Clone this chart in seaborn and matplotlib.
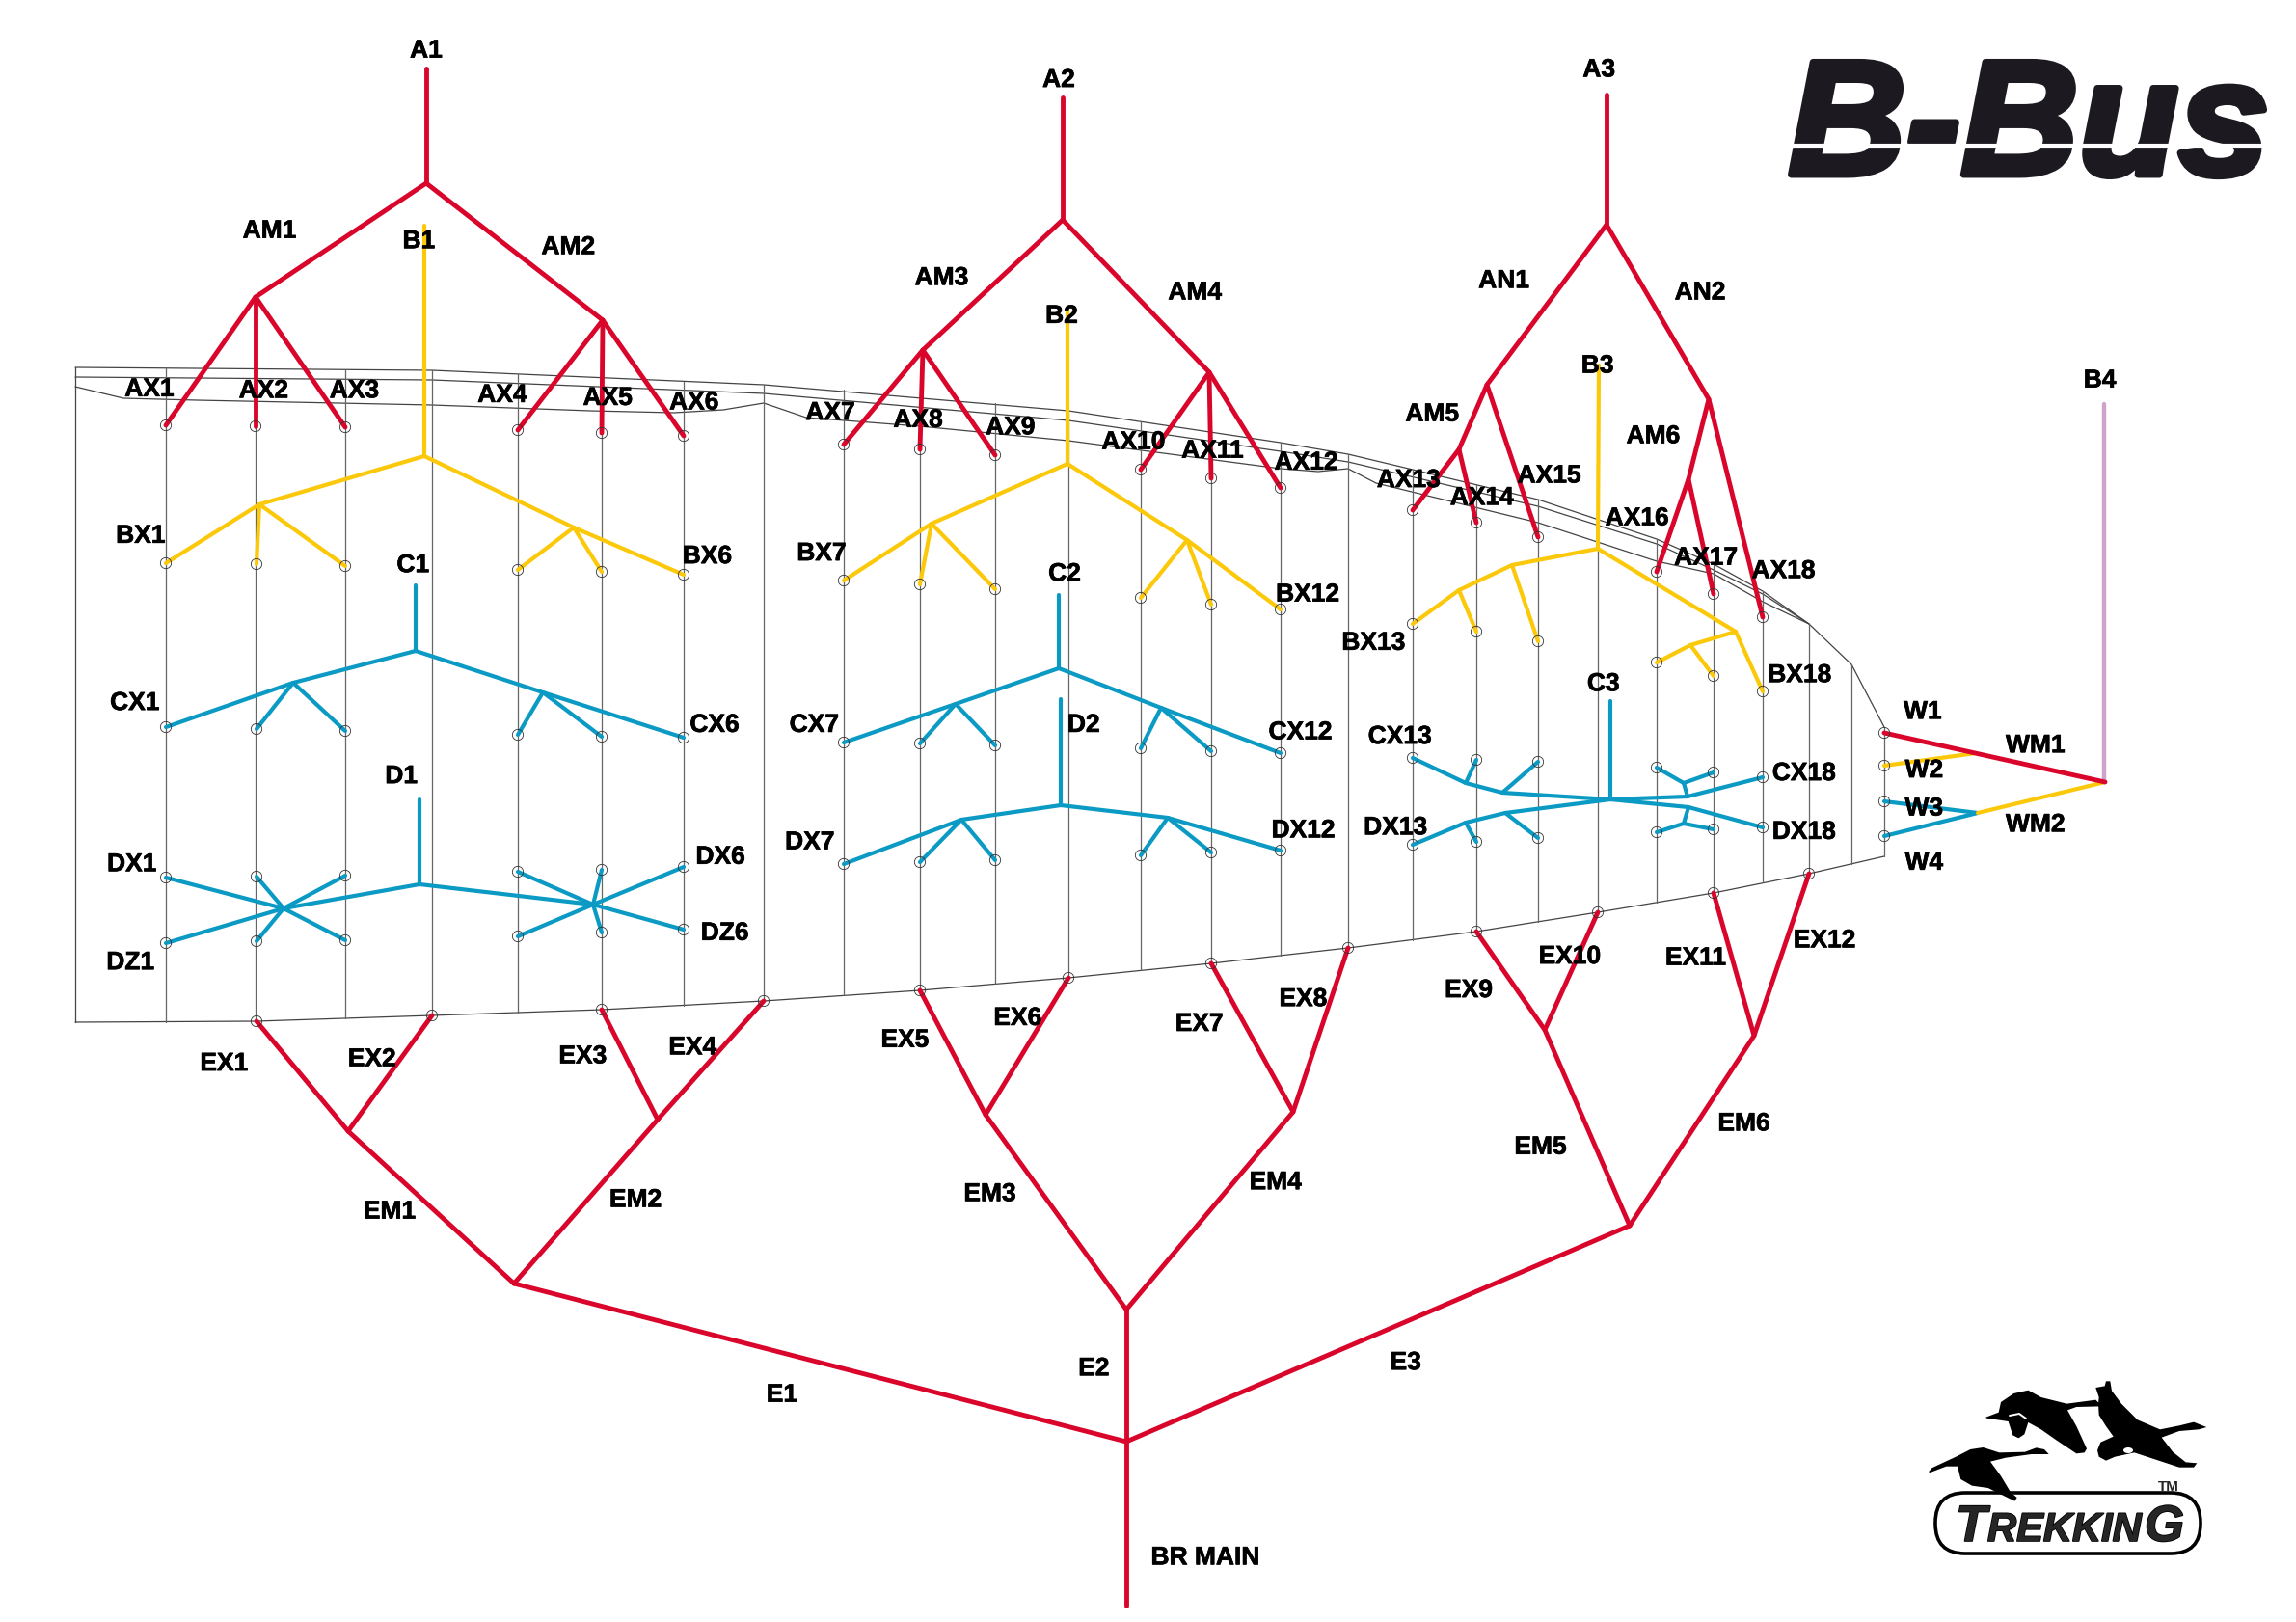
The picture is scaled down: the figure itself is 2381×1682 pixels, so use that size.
import matplotlib
matplotlib.use('Agg')
import matplotlib.pyplot as plt
import matplotlib.patheffects as pe
from matplotlib.patches import FancyBboxPatch, Ellipse
import seaborn as sns
import pandas as pd

# all coordinates are pixels of the 2381x1683 picture
RED = [
    [(442, 72), (442, 191)],
    [(442, 191), (265, 309), (172, 442)],
    [(265, 309), (265, 443)],
    [(265, 309), (358, 444)],
    [(442, 191), (625, 333), (537, 447)],
    [(625, 333), (624, 450)],
    [(625, 333), (709, 453)],
    [(1102, 102), (1102, 229)],
    [(1102, 229), (957, 364), (875, 462)],
    [(957, 364), (954, 467)],
    [(957, 364), (1032, 473)],
    [(1102, 229), (1254, 387), (1183, 488)],
    [(1254, 387), (1256, 497)],
    [(1254, 387), (1328, 507)],
    [(1666, 99), (1666, 234)],
    [(1666, 234), (1542, 400), (1513, 467), (1465, 530)],
    [(1513, 467), (1531, 543)],
    [(1542, 400), (1595, 558)],
    [(1666, 234), (1772, 415), (1751, 498), (1718, 594)],
    [(1751, 498), (1777, 617)],
    [(1772, 415), (1828, 641)],
    [(1168, 1666), (1168, 1496)],
    [(1168, 1496), (1168, 1359)],
    [(1168, 1496), (533, 1332)],
    [(1168, 1496), (1690, 1272)],
    [(533, 1332), (361, 1174), (266, 1060)],
    [(361, 1174), (448, 1054)],
    [(533, 1332), (682, 1162), (624, 1048)],
    [(682, 1162), (792, 1039)],
    [(1168, 1359), (1022, 1157), (954, 1028)],
    [(1022, 1157), (1108, 1015)],
    [(1168, 1359), (1341, 1154), (1256, 1000)],
    [(1341, 1154), (1398, 984)],
    [(1690, 1272), (1602, 1069), (1531, 967)],
    [(1602, 1069), (1657, 947)],
    [(1690, 1272), (1819, 1075), (1777, 927)],
    [(1819, 1075), (1876, 907)],
    [(1954, 761), (2183, 812)],
]
YELLOW = [
    [(440, 235), (440, 474)],
    [(440, 474), (269, 524), (172, 585)],
    [(269, 524), (266, 586)],
    [(269, 524), (358, 588)],
    [(440, 474), (595, 548), (709, 597)],
    [(595, 548), (537, 592)],
    [(595, 548), (624, 594)],
    [(1107, 322), (1107, 482)],
    [(1107, 482), (966, 544), (875, 603)],
    [(966, 544), (954, 607)],
    [(966, 544), (1032, 612)],
    [(1107, 482), (1231, 561), (1328, 633)],
    [(1231, 561), (1183, 621)],
    [(1231, 561), (1256, 628)],
    [(1658, 380), (1657, 570)],
    [(1657, 570), (1568, 587), (1513, 613), (1465, 648)],
    [(1513, 613), (1531, 656)],
    [(1568, 587), (1595, 666)],
    [(1657, 570), (1800, 656), (1828, 718)],
    [(1800, 656), (1753, 670), (1718, 688)],
    [(1753, 670), (1777, 702)],
    [(1954, 795), (2049, 782)],
    [(2051, 844), (2183, 812)],
]
BLUE = [
    [(431, 608), (431, 676)],
    [(431, 676), (304, 709), (172, 755)],
    [(304, 709), (266, 757)],
    [(304, 709), (358, 759)],
    [(431, 676), (563, 719), (709, 766)],
    [(563, 719), (537, 763)],
    [(563, 719), (624, 765)],
    [(435, 830), (435, 918)],
    [(435, 918), (294, 943)],
    [(435, 918), (615, 939)],
    [(294, 943), (172, 911)], [(294, 943), (172, 979)],
    [(294, 943), (266, 910)], [(294, 943), (266, 977)],
    [(294, 943), (358, 909)], [(294, 943), (358, 976)],
    [(615, 939), (537, 905)], [(615, 939), (537, 972)],
    [(615, 939), (624, 903)], [(615, 939), (624, 968)],
    [(615, 939), (709, 900)], [(615, 939), (709, 965)],
    [(1098, 618), (1098, 694)],
    [(1098, 694), (991, 731), (875, 771)],
    [(991, 731), (954, 772)],
    [(991, 731), (1032, 774)],
    [(1098, 694), (1204, 735), (1328, 782)],
    [(1204, 735), (1183, 777)],
    [(1204, 735), (1256, 780)],
    [(1100, 726), (1100, 836)],
    [(1100, 836), (997, 851), (875, 897)],
    [(997, 851), (954, 895)],
    [(997, 851), (1032, 893)],
    [(1100, 836), (1211, 849), (1328, 883)],
    [(1211, 849), (1183, 888)],
    [(1211, 849), (1256, 885)],
    [(1670, 728), (1670, 830)],
    [(1670, 830), (1558, 823), (1520, 813), (1465, 787)],
    [(1520, 813), (1531, 789)],
    [(1558, 823), (1595, 791)],
    [(1670, 830), (1561, 844), (1520, 854), (1465, 877)],
    [(1520, 854), (1531, 874)],
    [(1561, 844), (1595, 870)],
    [(1670, 830), (1750, 827), (1828, 807)],
    [(1750, 827), (1746, 813), (1718, 797)],
    [(1746, 813), (1777, 802)],
    [(1670, 830), (1751, 838), (1828, 859)],
    [(1751, 838), (1746, 855), (1718, 864)],
    [(1746, 855), (1777, 861)],
    [(1954, 832), (2051, 844)],
    [(1954, 868), (2051, 844)],
]
PINK = [[(2182, 420), (2182, 812)]]

OUTLINE = [
    [(78, 382), (448, 385), (792, 400), (1108, 427), (1328, 460), (1398, 472),
     (1595, 519), (1718, 560), (1777, 586), (1828, 614), (1876, 648), (1920, 690), (1954, 755)],
    [(78, 392), (448, 395), (792, 409), (1108, 437), (1328, 469), (1398, 480),
     (1595, 526), (1718, 565), (1777, 592), (1828, 617), (1876, 648)],
    [(78, 402), (128, 414), (204, 416), (448, 421), (612, 427), (699, 429), (750, 426), (792, 419),
     (836, 434), (954, 443), (1108, 458), (1328, 487), (1367, 490), (1398, 487), (1427, 502),
     (1595, 543), (1718, 583), (1777, 596), (1828, 625), (1876, 648)],
    [(78, 1061), (266, 1060), (448, 1054), (624, 1048), (792, 1039), (954, 1028), (1108, 1015),
     (1256, 1000), (1398, 984), (1531, 967), (1657, 947), (1777, 927), (1876, 907), (1954, 889)],
    [(78, 382), (78, 1061)],
]
RIB_X = [172, 265, 358, 448, 537, 624, 709, 792, 875, 954, 1032, 1108, 1183, 1256, 1328,
         1398, 1465, 1531, 1595, 1657, 1718, 1777, 1828, 1876, 1920, 1954]
RIB_TOP = [383, 383, 384, 385, 389, 393, 397, 400, 405, 412, 419, 427, 438, 449, 460,
           472, 488, 503, 519, 541, 560, 586, 614, 648, 690, 755]
RIB_BOTTOM = [1061, 1060, 1057, 1054, 1051, 1048, 1044, 1039, 1033, 1028, 1021, 1015, 1007, 1000, 992,
              984, 976, 967, 957, 947, 937, 927, 916, 907, 897, 889]

GROUND = [(266, 1060), (448, 1054), (624, 1048), (792, 1039), (954, 1028), (1108, 1015),
          (1256, 1000), (1398, 984), (1531, 967), (1657, 947), (1777, 927), (1876, 907),
          (1954, 761), (1954, 795), (1954, 832), (1954, 868)]

LABELS = {
    'A1': (291, 33), 'A2': (723, 53), 'A3': (1092, 46), 'AM1': (184, 156), 'AM2': (388, 167),
    'B1': (286, 163), 'AM3': (643, 188), 'AM4': (816, 198), 'B2': (725, 214), 'AN1': (1027, 190),
    'AN2': (1161, 198), 'B3': (1091, 248), 'B4': (1434, 258), 'AM5': (978, 281), 'AM6': (1129, 296),
    'AX1': (102, 264), 'AX2': (180, 265), 'AX3': (242, 265), 'AX4': (343, 268), 'AX5': (415, 270),
    'AX6': (474, 273), 'AX7': (567, 280), 'AX8': (627, 285), 'AX9': (690, 290), 'AX10': (774, 300),
    'AX11': (828, 306), 'AX12': (892, 314), 'AX13': (962, 326), 'AX14': (1012, 338), 'AX15': (1058, 323),
    'AX16': (1118, 352), 'AX17': (1165, 379), 'AX18': (1218, 388),
    'BX1': (96, 364), 'BX6': (483, 378), 'BX7': (561, 376), 'BX12': (893, 404), 'BX13': (938, 437),
    'BX18': (1229, 459), 'C1': (282, 384), 'C2': (727, 390), 'C3': (1095, 465), 'D1': (274, 528),
    'D2': (740, 493), 'CX1': (92, 478), 'CX6': (488, 493), 'CX7': (556, 493), 'CX12': (888, 498),
    'CX13': (956, 501), 'CX18': (1232, 526), 'DX1': (90, 588), 'DZ1': (89, 655), 'DX6': (492, 583),
    'DZ6': (495, 635), 'DX7': (553, 573), 'DX12': (890, 565), 'DX13': (953, 563), 'DX18': (1232, 566),
    'W1': (1313, 484), 'W2': (1314, 524), 'W3': (1314, 550), 'W4': (1314, 587), 'WM1': (1390, 507),
    'WM2': (1390, 561), 'EX1': (153, 724), 'EX2': (254, 721), 'EX3': (398, 719), 'EX4': (473, 713),
    'EX5': (618, 708), 'EX6': (695, 693), 'EX7': (819, 697), 'EX8': (890, 680), 'EX9': (1003, 674),
    'EX10': (1072, 651), 'EX11': (1158, 652), 'EX12': (1246, 640), 'EM1': (266, 825), 'EM2': (434, 817),
    'EM3': (676, 813), 'EM4': (871, 805), 'EM5': (1052, 781), 'EM6': (1191, 765), 'E1': (534, 950),
    'E2': (747, 932), 'E3': (960, 928), 'BR MAIN': (823, 1061),
}
LABEL_SCALE = 1.5185
LABEL_SCALE_Y = 1.5201

GOOSE_1 = [(120, 382), (130, 370), (205, 335), (250, 312), (290, 306), (340, 322), (420, 320), (455, 307),
           (480, 312), (494, 327), (440, 327), (360, 338), (312, 350), (345, 395), (375, 445), (395, 462),
           (388, 473), (345, 452), (305, 432), (255, 425), (220, 405), (210, 365), (175, 365), (125, 384)]
GOOSE_2 = [(298, 212), (338, 197), (345, 165), (385, 138), (430, 128), (470, 150), (550, 170), (640, 158),
           (660, 178), (580, 180), (552, 190), (580, 240), (612, 310), (605, 322), (580, 325), (520, 285),
           (470, 250), (430, 228), (418, 265), (400, 277), (382, 268), (368, 225), (300, 215)]
GOOSE_3 = [(640, 120), (668, 115), (672, 100), (685, 100), (690, 130), (720, 170), (770, 220), (840, 250),
           (900, 238), (945, 227), (965, 235), (985, 243), (960, 250), (900, 255), (845, 275), (880, 320),
           (920, 352), (955, 355), (945, 368), (900, 368), (830, 345), (760, 322), (700, 335), (672, 347),
           (650, 335), (645, 315), (655, 290), (695, 272), (672, 240), (650, 205), (648, 170), (650, 150)]


def to_frame(paths):
    rows = []
    for seg, path in enumerate(paths):
        for x, y in path:
            rows.append({'seg': seg, 'x': x, 'y': y})
    return pd.DataFrame(rows)


def draw_paths(ax, paths, color, lw, zorder):
    sns.lineplot(data=to_frame(paths), x='x', y='y', units='seg', estimator=None, sort=False,
                 color=color, linewidth=lw, zorder=zorder, legend=False, ax=ax)


def electrode_ends(paths):
    # a path end that sits on a rib and does not branch on is an electrode
    starts = set(p[0] for p in paths)
    ends = []
    for path in paths:
        end = path[-1]
        if end not in starts and min(abs(end[0] - x) for x in RIB_X) <= 2:
            ends.append(end)
    return ends


sns.set_style("white")
plt.rcParams['font.family'] = ['Liberation Sans', 'DejaVu Sans']

fig = plt.figure(figsize=(23.81, 16.83), dpi=100)
ax = fig.add_axes([0, 0, 1, 1])

# wing outline and ribs
draw_paths(ax, OUTLINE, '#444444', 0.9, 1)
ribs = [[(x, t), (x, b)] for x, t, b in zip(RIB_X, RIB_TOP, RIB_BOTTOM)]
draw_paths(ax, ribs, '#666666', 0.9, 1)

# bus trees
draw_paths(ax, PINK, '#cfa4cc', 3.2, 2)
draw_paths(ax, BLUE, '#0b9ac4', 3.0, 3)
draw_paths(ax, YELLOW, '#fcc80a', 3.0, 3)
draw_paths(ax, RED, '#d9052b', 3.5, 4)

# open rings at the electrodes
ring_points = electrode_ends(RED) + electrode_ends(YELLOW) + electrode_ends(BLUE) + GROUND
rings = pd.DataFrame(sorted(set(ring_points)), columns=['x', 'y'])
sns.scatterplot(data=rings, x='x', y='y', s=66, marker='o', facecolors='none',
                edgecolor='#333333', linewidth=0.6, zorder=5, legend=False, ax=ax)

for name, (x, y) in LABELS.items():
    ax.text(x * LABEL_SCALE, y * LABEL_SCALE_Y + 3.5, name, fontsize=19, fontweight='bold',
            ha='center', va='center', color='black', zorder=6,
            path_effects=[pe.withStroke(linewidth=0.5, foreground='black')])

# B-Bus logo
ax.text(2104, 182, 'B-Bus', fontsize=122, fontweight='bold', fontstyle='italic', ha='center',
        va='baseline', color='#1c1a20',
        path_effects=[pe.withStroke(linewidth=5, foreground='#1c1a20')], zorder=6)
ax.plot([1850, 2360], [152, 152], color='white', lw=3.0, zorder=7)

# Trekking logo
for goose in (GOOSE_1, GOOSE_2, GOOSE_3):
    ax.fill([1960 + p[0] / 3 for p in goose], [1400 + p[1] / 3 for p in goose], color='black', lw=0, zorder=7)
ax.add_patch(Ellipse((2207, 1505), 10, 6, fc='white', ec='none', zorder=8))
ax.plot([2084, 2094, 2101], [1469, 1467, 1472], color='white', lw=1.4, zorder=8)
ax.add_patch(FancyBboxPatch((2007, 1549), 275, 63, boxstyle='round,pad=0,rounding_size=31',
                            fc='white', ec='black', lw=2.6, zorder=5))
heavy = [pe.withStroke(linewidth=1.2, foreground='black')]
ax.text(2028, 1599, 'T', fontsize=38, fontweight='bold', fontstyle='italic', ha='left', va='baseline',
        zorder=6, path_effects=heavy)
ax.text(2061, 1599, 'REKKIN', fontsize=30, fontweight='bold', fontstyle='italic', ha='left', va='baseline',
        zorder=6, path_effects=heavy)
ax.text(2224, 1599, 'G', fontsize=38, fontweight='bold', fontstyle='italic', ha='left', va='baseline',
        zorder=6, path_effects=heavy)
ax.text(2249, 1542, 'TM', fontsize=11, fontweight='bold', ha='center', va='center', zorder=6)

ax.set_xlim(0, 2381)
ax.set_ylim(1683, 0)
ax.axis('off')

fig.savefig('out.png', dpi=100, facecolor='white')
